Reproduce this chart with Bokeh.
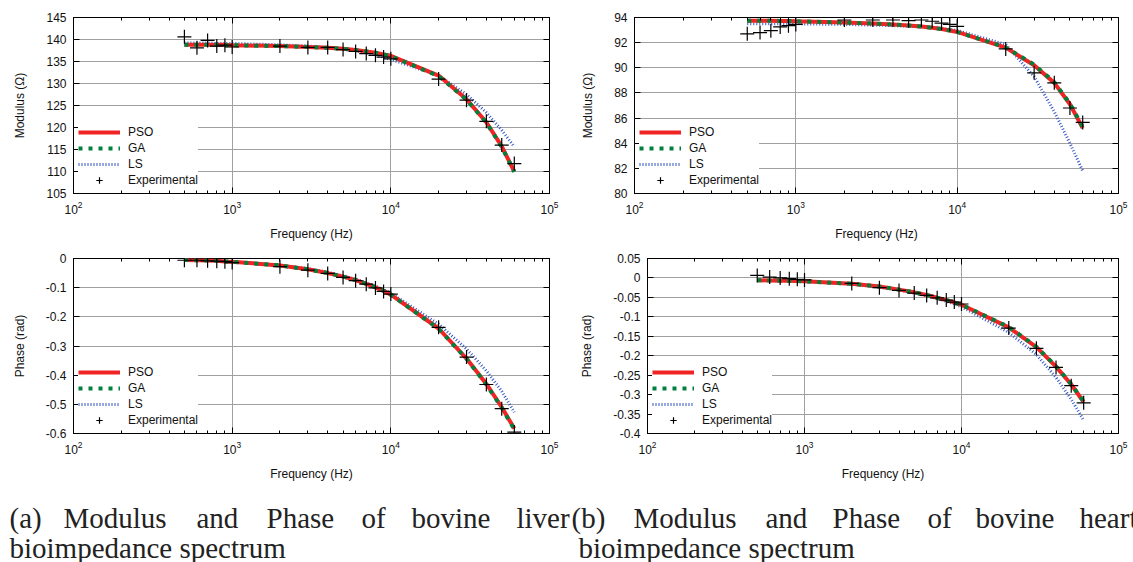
from bokeh.plotting import figure
from bokeh.models import (Range1d, LogTicker, FixedTicker, LogAxis, LinearAxis,
                          Legend, CustomJSTickFormatter)
from bokeh.layouts import column, row
from bokeh.embed import file_html
from bokeh.resources import INLINE
from bokeh.core.properties import value

# ---------------- data ----------------
freq = [500, 600, 700, 800, 900, 1000, 2000, 3000, 4000, 5000, 6000, 7000,
        8000, 9000, 10000, 20000, 30000, 40000, 50000, 60000]

# (a) bovine liver - modulus (Ohm)
liver_mod_exp = [140.6, 138.1, 139.8, 138.5, 138.7, 138.3, 138.5, 138.2, 138.2, 137.7,
                 137.3, 136.8, 136.4, 136.0, 135.6, 131.0, 126.2, 121.4, 116.0, 111.8]
liver_mod_pso = [138.8, 138.8, 138.8, 138.8, 138.8, 138.7, 138.5, 138.3, 138.1, 137.9,
                 137.6, 137.3, 137.0, 136.6, 136.3, 131.8, 126.4, 121.2, 115.7, 110.0]
liver_mod_ga = [138.8, 138.8, 138.8, 138.8, 138.7, 138.7, 138.5, 138.3, 138.1, 137.9,
                137.6, 137.3, 137.0, 136.6, 136.2, 131.7, 126.3, 121.1, 115.6, 109.9]
liver_mod_ls = [139.2, 139.2, 139.2, 139.1, 139.1, 139.1, 138.8, 138.5, 138.2, 137.8,
                137.4, 137.0, 136.5, 136.0, 135.5, 131.8, 127.5, 123.4, 119.4, 115.6]

# (a) bovine liver - phase (rad)
liver_ph_exp = [-0.006, -0.006, -0.008, -0.009, -0.011, -0.014, -0.028, -0.040, -0.051, -0.065,
                -0.076, -0.088, -0.101, -0.113, -0.122, -0.236, -0.338, -0.432, -0.515, -0.595]
liver_ph_pso = [-0.005, -0.006, -0.007, -0.008, -0.010, -0.011, -0.024, -0.037, -0.050, -0.062,
                -0.074, -0.087, -0.099, -0.111, -0.124, -0.240, -0.343, -0.430, -0.510, -0.583]
liver_ph_ga = [-0.005, -0.006, -0.007, -0.008, -0.010, -0.011, -0.024, -0.037, -0.050, -0.062,
               -0.074, -0.087, -0.099, -0.111, -0.124, -0.241, -0.344, -0.432, -0.512, -0.586]
liver_ph_ls = [-0.005, -0.006, -0.007, -0.008, -0.009, -0.011, -0.023, -0.035, -0.047, -0.059,
               -0.071, -0.083, -0.095, -0.107, -0.119, -0.225, -0.310, -0.385, -0.455, -0.527]

# (b) bovine heart - modulus (Ohm)
heart_mod_exp = [92.7, 92.8, 92.95, 93.25, 93.35, 93.45, 93.8, 93.8, 93.8, 93.75,
                 93.8, 93.7, 93.55, 93.45, 93.3, 91.5, 89.6, 88.8, 86.8, 85.65]
heart_mod_pso = [93.75, 93.75, 93.74, 93.73, 93.72, 93.7, 93.6, 93.52, 93.44, 93.36,
                 93.28, 93.18, 93.08, 92.96, 92.85, 91.6, 90.2, 88.8, 87.1, 85.2]
heart_mod_ga = [93.75, 93.75, 93.74, 93.73, 93.72, 93.7, 93.6, 93.52, 93.44, 93.36,
                93.28, 93.18, 93.08, 92.96, 92.85, 91.62, 90.25, 88.85, 87.15, 85.3]
heart_mod_ls = [93.5, 93.5, 93.5, 93.5, 93.5, 93.5, 93.45, 93.4, 93.35, 93.3,
                93.25, 93.2, 93.12, 93.05, 92.97, 91.85, 89.3, 86.5, 84.0, 81.8]

# (b) bovine heart - phase (rad)
heart_ph_exp = [0.0065, 0.0023, 0.0, -0.002, -0.0035, -0.005, -0.014, -0.025, -0.032, -0.039,
                -0.045, -0.051, -0.057, -0.062, -0.067, -0.129, -0.181, -0.230, -0.277, -0.321]
heart_ph_pso = [-0.006, -0.0065, -0.007, -0.0075, -0.008, -0.0085, -0.015, -0.022, -0.030, -0.037,
                -0.044, -0.051, -0.057, -0.063, -0.069, -0.127, -0.178, -0.228, -0.274, -0.319]
heart_ph_ga = [-0.006, -0.0065, -0.007, -0.0075, -0.008, -0.0085, -0.015, -0.022, -0.030, -0.037,
               -0.044, -0.051, -0.057, -0.063, -0.069, -0.126, -0.177, -0.227, -0.273, -0.318]
heart_ph_ls = [-0.006, -0.0065, -0.007, -0.0075, -0.008, -0.009, -0.016, -0.024, -0.031, -0.039,
               -0.046, -0.053, -0.060, -0.067, -0.074, -0.140, -0.197, -0.256, -0.312, -0.366]

# tick values
liver_mod_ticks = [105, 110, 115, 120, 125, 130, 135, 140, 145]
heart_mod_ticks = [80, 82, 84, 86, 88, 90, 92, 94]
liver_ph_ticks = [-0.6, -0.5, -0.4, -0.3, -0.2, -0.1, 0]
heart_ph_ticks = [-0.4, -0.35, -0.3, -0.25, -0.2, -0.15, -0.1, -0.05, 0, 0.05]

series_names = ["PSO", "GA", "LS", "Experimental"]
x_label = "Frequency (Hz)"

caption_a = ["(a)", "Modulus", "and", "Phase", "of", "bovine", "liver"]
caption_b = ["(b)", "Modulus", "and", "Phase", "of", "bovine", "heart"]
caption_line2 = "bioimpedance spectrum"

# ---------------- styling ----------------
FONT = "Liberation Sans"
TXT = "#111111"
GRID = "#a0a0a0"
RED = "#f02424"
GREEN = "#00803c"
BLUE = "#3557c4"


def style_axis(ax, labels=True, minor=True):
    ax.axis_line_color = None
    ax.major_tick_in = 6
    ax.major_tick_out = 0
    ax.minor_tick_in = 3
    ax.minor_tick_out = 0
    ax.major_tick_line_color = "black"
    ax.minor_tick_line_color = "black" if minor else None
    ax.major_label_text_font = FONT
    ax.major_label_text_font_size = "12px"
    ax.major_label_text_color = TXT
    ax.axis_label_text_font = FONT
    ax.axis_label_text_font_size = "12px"
    ax.axis_label_text_font_style = "normal"
    ax.axis_label_text_color = TXT
    if not labels:
        ax.major_label_text_font_size = "1px"
        ax.major_label_text_alpha = 0
        ax.major_label_standoff = 0


def make_panel(width, height, bl, br, bt, bb, yr, yticks, ylabel, exp, pso, ga, ls):
    p = figure(width=width, height=height, x_axis_type="log",
               x_range=Range1d(100, 100000), y_range=Range1d(*yr),
               output_backend="svg", toolbar_location=None,
               min_border_left=bl, min_border_right=br,
               min_border_top=bt, min_border_bottom=bb)
    p.outline_line_color = "black"
    p.outline_line_width = 1
    p.background_fill_color = "white"
    p.border_fill_color = "white"

    xt = LogTicker(num_minor_ticks=10)
    yt = FixedTicker(ticks=yticks)

    xa = p.below[0]
    xa.ticker = xt
    xa.axis_label = x_label
    style_axis(xa)
    xa.major_label_standoff = 7
    xa.axis_label_standoff = 10

    ya = p.left[0]
    ya.ticker = yt
    ya.formatter = CustomJSTickFormatter(code="return String(tick);")
    ya.axis_label = ylabel
    style_axis(ya, minor=False)
    ya.major_label_standoff = 7
    ya.axis_label_standoff = 16

    top = LogAxis(ticker=LogTicker(num_minor_ticks=10))
    style_axis(top, labels=False)
    p.add_layout(top, "above")
    right = LinearAxis(ticker=FixedTicker(ticks=yticks))
    style_axis(right, labels=False, minor=False)
    p.add_layout(right, "right")

    p.xgrid.ticker = xt
    p.ygrid.ticker = yt
    for g in (p.xgrid, p.ygrid):
        g.grid_line_color = GRID
        g.grid_line_width = 1

    r_ls = p.line(freq, ls, line_color=BLUE, line_width=3, line_dash="1 2")
    r_pso = p.line(freq, pso, line_color=RED, line_width=4)
    r_ga = p.line(freq, ga, line_color=GREEN, line_width=4, line_dash="4 6")
    r_exp = p.scatter(freq, exp, marker="cross", size=14, line_color="black", line_width=1.2)

    leg = Legend(items=[(series_names[0], [r_pso]), (series_names[1], [r_ga]),
                        (series_names[2], [r_ls]), (series_names[3], [r_exp])],
                 location="bottom_left")
    leg.label_text_font = FONT
    leg.label_text_font_size = "12px"
    leg.label_text_color = TXT
    leg.background_fill_color = "white"
    leg.background_fill_alpha = 1.0
    leg.border_line_color = None
    leg.margin = 5
    leg.padding = 2
    leg.spacing = 0
    leg.label_height = 16
    leg.glyph_height = 16
    leg.glyph_width = 42
    leg.label_standoff = 8
    p.add_layout(leg)
    return p


f1 = make_panel(560, 245, 73, 11, 17, 52, (105, 145), liver_mod_ticks, "Modulus (\u03a9)",
                liver_mod_exp, liver_mod_pso, liver_mod_ga, liver_mod_ls)
f2 = make_panel(573, 245, 74, 15, 17, 52, (80, 94), heart_mod_ticks, "Modulus (\u03a9)",
                heart_mod_exp, heart_mod_pso, heart_mod_ga, heart_mod_ls)
f3 = make_panel(560, 240, 73, 11, 13, 52, (-0.6, 0), liver_ph_ticks, "Phase (rad)",
                liver_ph_exp, liver_ph_pso, liver_ph_ga, liver_ph_ls)
f4 = make_panel(573, 240, 87, 15, 13, 52, (-0.4, 0.05), heart_ph_ticks, "Phase (rad)",
                heart_ph_exp, heart_ph_pso, heart_ph_ga, heart_ph_ls)

# ---------------- caption ----------------
cap = figure(width=1133, height=77, x_range=Range1d(0, 1133), y_range=Range1d(0, 77),
             output_backend="svg", toolbar_location=None, min_border=0,
             x_axis_type=None, y_axis_type=None)
cap.outline_line_color = None
cap.xgrid.visible = False
cap.ygrid.visible = False
cap_font = dict(text_font=value("Liberation Serif"), text_font_size="29px",
                text_baseline="middle", text_align="left", text_color="#222222")
xa_pos = [9, 63, 196, 266, 361, 411, 516]
xb_pos = [571, 633, 765, 832, 927, 975, 1079]
cap.text(x=xa_pos + xb_pos, y=[45] * 14, text=caption_a + caption_b, **cap_font)
cap.text(x=[9, 578], y=[15, 15], text=[caption_line2, caption_line2], **cap_font)

layout = column(row(f1, f2), row(f3, f4), cap)
open("out.html", "w").write(file_html(layout, INLINE))
